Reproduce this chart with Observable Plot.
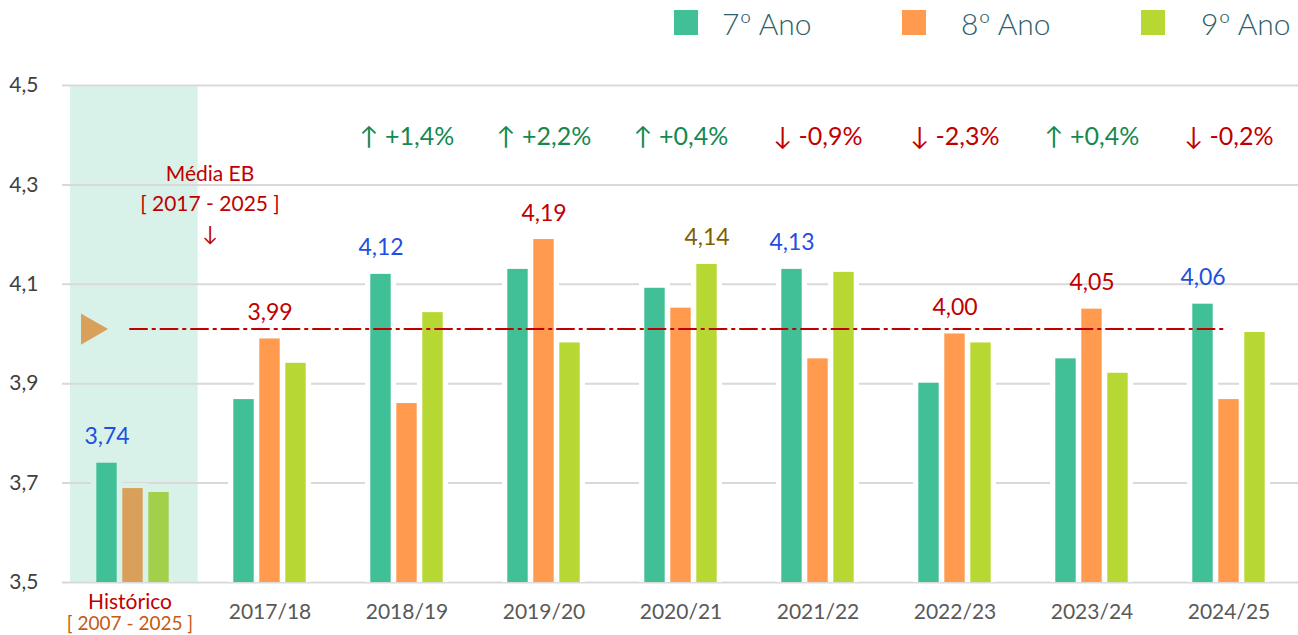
<!DOCTYPE html>
<html>
<head>
<meta charset="utf-8">
<script src="https://cdn.jsdelivr.net/npm/d3@7"></script>
<script src="https://cdn.jsdelivr.net/npm/@observablehq/plot@0.6"></script>
<style>
  html, body { margin: 0; padding: 0; background: #fff; }
  body { width: 1298px; height: 635px; overflow: hidden; font-family: Lato, "Open Sans", sans-serif; }
  #legend { position: relative; height: 50px; }
  .lg-sq { position: absolute; top: 10px; width: 24px; height: 25px; }
  .lg-tx { position: absolute; top: 5px; font-size: 30px; line-height: 36px; color: #2f5f6b; font-weight: 300; }
  #chart svg { display: block; }
</style>
</head>
<body>
<div id="legend"></div>
<div id="chart"></div>
<script>
// ---- data ----
const groups = ["Histórico", "2017/18", "2018/19", "2019/20", "2020/21", "2021/22", "2022/23", "2023/24", "2024/25"];
const series = ["7º Ano", "8º Ano", "9º Ano"];
const values7 = [3.74, 3.868, 4.12, 4.13, 4.092, 4.13, 3.901, 3.95, 4.06];
const values8 = [3.689, 3.99, 3.86, 4.19, 4.052, 3.95, 4.00, 4.05, 3.868];
const values9 = [3.681, 3.941, 4.043, 3.982, 4.14, 4.124, 3.982, 3.921, 4.003];
const labelSeries = ["7º Ano", "8º Ano", "7º Ano", "8º Ano", "9º Ano", "7º Ano", "8º Ano", "8º Ano", "7º Ano"];
const pctGroups = ["2018/19", "2019/20", "2020/21", "2021/22", "2022/23", "2023/24", "2024/25"];
const pctChange = [1.4, 2.2, 0.4, -0.9, -2.3, 0.4, -0.2];
const mediaEB = 4.01;
const mediaLabel = ["Média EB", "[ 2017 - 2025 ]", "↓"];
const histLabel = ["Histórico", "[ 2007 - 2025 ]"];
const yTicks = [3.5, 3.7, 3.9, 4.1, 4.3, 4.5];

// ---- styles ----
const colors = {"7º Ano": "#41bf96", "8º Ano": "#ff9a4e", "9º Ano": "#b7d733"};
const histColors = {"7º Ano": "#41bf96", "8º Ano": "#d9a05b", "9º Ano": "#a3d04a"};
const labelColors = {"7º Ano": "#1f4fe0", "8º Ano": "#c00000", "9º Ano": "#7f6000"};
const shade = "#d9f2e9";
const red = "#c00000", green = "#15884f";
const offsets = {"7º Ano": -26, "8º Ano": 0, "9º Ano": 26};

// legend
const legend = document.getElementById("legend");
const legendSq = [674, 902, 1141];
const legendTx = [722, 961, 1201];
series.forEach((s, i) => {
  const sq = document.createElement("div");
  sq.className = "lg-sq"; sq.style.left = legendSq[i] + "px"; sq.style.background = colors[s];
  const tx = document.createElement("div");
  tx.className = "lg-tx"; tx.style.left = legendTx[i] + "px"; tx.textContent = s;
  legend.append(sq, tx);
});

const seriesValues = [values7, values8, values9];
const rows = groups.flatMap((g, i) => series.map((s, j) => ({group: g, series: s, value: seriesValues[j][i]})));
const labelRows = rows.filter(d => labelSeries[groups.indexOf(d.group)] === d.series);
const pctRows = pctGroups.map((g, i) => ({group: g, pct: pctChange[i]}));
const comma = (v, n) => v.toFixed(n).replace(".", ",");
const yMin = yTicks[0], yMax = yTicks[yTicks.length - 1];
const inset = 58.3;

const marks = [
  Plot.barY([{group: groups[0]}], {x: "group", y1: yMin, y2: yMax, fill: shade, insetLeft: 6, insetRight: 3.3}),
  Plot.ruleY(yTicks, {stroke: "#d9d9d9", strokeWidth: 2}),
];
for (const s of series) {
  marks.push(Plot.barY(rows.filter(d => d.series === s), {
    x: "group", y1: yMin, y2: "value", dx: offsets[s],
    insetLeft: inset - 5.3, insetRight: inset - 5.3, insetTop: -5,
    fill: d => d.group === groups[0] ? shade : "white"
  }));
}
for (const s of series) {
  marks.push(Plot.barY(rows.filter(d => d.series === s), {
    x: "group", y1: yMin, y2: "value", dx: offsets[s],
    insetLeft: inset, insetRight: inset,
    fill: d => d.group === groups[0] ? histColors[s] : colors[s]
  }));
}
marks.push(
  Plot.lineY([{group: groups[0], v: mediaEB}, {group: groups[groups.length - 1], v: mediaEB}], {
    x: "group", y: "v", stroke: red, strokeWidth: 2, strokeDasharray: "17,5.5,2.5,5.5", dx: -3
  }),
  Plot.dot([{group: groups[0], v: mediaEB}], {
    x: "group", y: "v", symbol: "triangle", rotate: 90, r: 11.6, fill: "#d9a05b", dx: -43
  })
);
for (const s of series) {
  marks.push(Plot.text(labelRows.filter(d => d.series === s), {
    x: "group", y: "value", text: d => comma(d.value, 2), dx: offsets[s], dy: -19,
    lineAnchor: "bottom", fill: labelColors[s], fontSize: 23
  }));
}
marks.push(
  Plot.text(pctRows, {
    x: "group", frameAnchor: "top", dy: 42,
    text: d => (d.pct >= 0 ? "↑ +" : "↓ ") + comma(d.pct, 1) + "%",
    fill: d => d.pct >= 0 ? green : red, fontSize: 25
  }),
  Plot.text([mediaLabel.join("\n")], {
    x: () => groups[1], frameAnchor: "top", dy: 74, dx: -60, text: d => d,
    fill: red, fontSize: 21, lineHeight: 1.43, letterSpacing: "0.8px"
  }),
  Plot.text(yTicks, {
    y: d => d, frameAnchor: "left", dx: -24, textAnchor: "end",
    text: d => comma(d, 1), fontSize: 21, fill: "#404040"
  }),
  Plot.text(groups.slice(1), {
    x: d => d, frameAnchor: "bottom", dy: 36, text: d => d, fontSize: 21, fill: "#595959"
  }),
  Plot.text([histLabel[0]], {
    x: () => groups[0], frameAnchor: "bottom", dy: 26, dx: -3, text: d => d,
    fontSize: 21, fill: red, letterSpacing: "1px"
  }),
  Plot.text([histLabel[1]], {
    x: () => groups[0], frameAnchor: "bottom", dy: 47, dx: -3, text: d => d,
    fontSize: 19, fill: "#c55a11", letterSpacing: "0.5px"
  })
);

const chart = Plot.plot({
  width: 1298,
  height: 585,
  marginLeft: 62,
  marginRight: 0,
  marginTop: 35,
  marginBottom: 53,
  style: {fontFamily: "Lato, 'Open Sans', sans-serif", background: "white"},
  x: {type: "band", domain: groups, padding: 0, axis: null},
  y: {domain: [yMin, yMax], axis: null},
  marks
});
document.getElementById("chart").append(chart);
</script>
</body>
</html>
